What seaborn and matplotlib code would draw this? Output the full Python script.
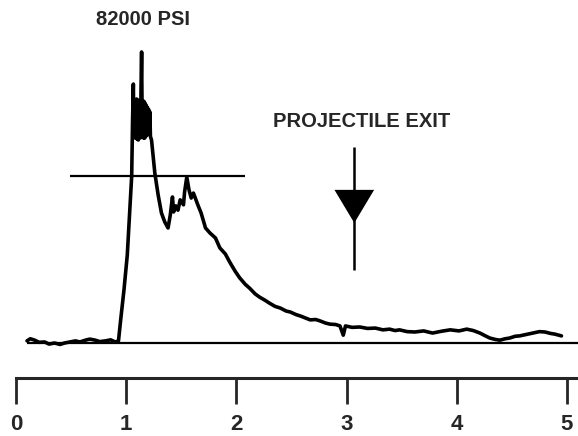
import numpy as np
import pandas as pd
import matplotlib
matplotlib.use("Agg")
import matplotlib.pyplot as plt
import seaborn as sns

# pressure trace (time in scale units, pressure in ksi)
time = [0.10, 0.13, 0.17, 0.21, 0.26, 0.30, 0.35, 0.40, 0.44, 0.49,
        0.54, 0.58, 0.63, 0.67, 0.72, 0.76, 0.81, 0.86, 0.90,
        0.93, 0.95, 0.98, 1.01, 1.03, 1.05, 1.058, 1.065,
        1.070, 1.075, 1.080, 1.085, 1.090, 1.095, 1.100, 1.105, 1.110,
        1.115, 1.120, 1.125, 1.130, 1.135, 1.140, 1.145, 1.150, 1.155,
        1.160, 1.165, 1.170, 1.175, 1.180, 1.185, 1.190, 1.195, 1.200,
        1.205, 1.210, 1.215, 1.220, 1.23, 1.26, 1.29,
        1.32, 1.35, 1.38, 1.40, 1.42, 1.43, 1.45, 1.47, 1.49, 1.52,
        1.53, 1.55, 1.57, 1.59, 1.61, 1.62, 1.65, 1.68, 1.72, 1.76,
        1.81, 1.85, 1.90, 1.94, 1.99, 2.03, 2.08, 2.12, 2.17, 2.21,
        2.26, 2.30, 2.35, 2.40, 2.45, 2.49, 2.54, 2.58, 2.63, 2.67,
        2.72, 2.76, 2.81, 2.85, 2.90, 2.94, 2.97, 2.99, 3.05, 3.12,
        3.19, 3.26, 3.33, 3.39, 3.44, 3.48, 3.55, 3.62, 3.70, 3.78,
        3.86, 3.94, 4.02, 4.09, 4.15, 4.21, 4.26, 4.30, 4.35, 4.39,
        4.44, 4.48, 4.53, 4.57, 4.63, 4.69, 4.75, 4.80, 4.85, 4.89,
        4.95]
pressure = [0.6, 1.2, 0.8, 0.2, 0.3, -0.3, 0.0, -0.4, 0.0, 0.3,
            0.6, 0.3, 0.8, 1.1, 0.8, 0.4, 0.6, 0.9, 0.3,
            0.6, 6.5, 14.9, 24.7, 35.9, 46.9, 62.6, 72.7,
            58.0, 68.2, 57.6, 67.7, 58.1, 68.5, 57.2, 68.2, 57.0,
            67.0, 58.0, 66.8, 57.6, 72.0, 81.7, 62.0, 59.8, 68.0,
            57.5, 67.7, 57.6, 67.1, 58.1, 66.5, 58.4, 66.0, 59.2,
            65.5, 59.0, 64.9, 58.0, 57.0, 47.7, 41.6,
            36.5, 34.0, 32.3, 35.9, 41.0, 36.8, 38.5, 37.3, 40.2, 38.8,
            42.4, 46.6, 43.0, 40.7, 42.1, 41.3, 38.8, 36.5, 32.3, 30.9,
            29.5, 26.7, 25.0, 22.7, 20.1, 18.3, 16.5, 15.4, 13.8, 12.9,
            12.0, 11.2, 10.3, 9.8, 9.0, 8.7, 8.0, 7.6, 7.0, 6.5,
            6.6, 6.2, 5.6, 5.3, 5.2, 4.8, 2.2, 4.8, 4.4, 4.5,
            4.1, 4.2, 3.7, 3.9, 3.5, 3.7, 3.2, 3.1, 3.4, 2.8,
            3.3, 3.7, 3.4, 3.9, 3.5, 2.8, 2.0, 1.4, 1.0, 0.8,
            1.2, 1.4, 1.9, 2.0, 2.4, 2.8, 3.2, 3.1, 2.7, 2.5,
            2.0]

scale_ticks = [0, 1, 2, 3, 4, 5]
peak_label = "82000 PSI"
exit_label = "PROJECTILE EXIT"
exit_time = 3.07
ref_level = 47.0
ref_start, ref_end = 0.49, 2.08
baseline_start, baseline_end = 0.10, 5.11

sns.set_style("white")
plt.rcParams["font.family"] = ["Liberation Sans", "DejaVu Sans"]

df = pd.DataFrame({"t": time, "p": pressure})

fig = plt.figure(figsize=(5.78, 4.36), dpi=100)
ax = fig.add_axes([0, 0, 1, 1])

sns.lineplot(data=df, x="t", y="p", color="black", lw=2.6,
             estimator=None, sort=False, ax=ax)

# zero line and reference level
ax.hlines(0, baseline_start, baseline_end, color="black", lw=1.6)
ax.hlines(ref_level, ref_start, ref_end, color="black", lw=1.6)

# projectile exit arrow
ax.vlines(exit_time, 20.5, 55, color="black", lw=1.8)
ax.fill([exit_time - 0.18, exit_time + 0.18, exit_time], [43, 43, 33.7],
        color="black", lw=0)

ax.text(1.15, 90.7, peak_label, ha="center", va="center",
        fontsize=14.5, fontweight="bold")
ax.text(3.14, 62.3, exit_label, ha="center", va="center",
        fontsize=14.5, fontweight="bold")

ax.set_xlim(-0.145, 5.10)
ax.set_ylim(-26.1, 96.3)

# time scale along the bottom
for s in ["top", "right", "left"]:
    ax.spines[s].set_visible(False)
ax.spines["bottom"].set_position(("data", -9.8))
ax.spines["bottom"].set_bounds(0, 5.2)
ax.spines["bottom"].set_linewidth(2.2)
ax.set_xticks(scale_ticks)
ax.set_xticklabels([str(v) for v in scale_ticks], fontsize=16, fontweight="bold")
ax.tick_params(axis="x", direction="out", length=19, width=2, pad=7, bottom=True)
ax.set_yticks([])
ax.set_xlabel("")
ax.set_ylabel("")

fig.savefig("out.png", dpi=100)
